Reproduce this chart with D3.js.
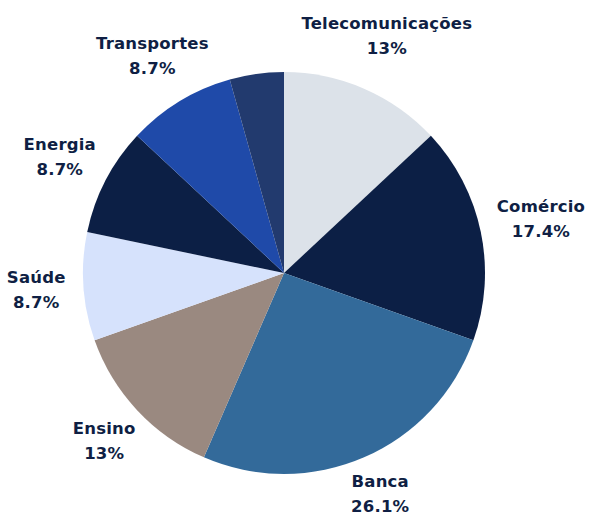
<!DOCTYPE html>
<html>
<head>
<meta charset="utf-8">
<script src="https://cdn.jsdelivr.net/npm/d3@7"></script>
<style>
  body { margin: 0; background: #fff; }
  text { font-family: "DejaVu Sans", sans-serif; font-weight: bold; fill: #0f1f44; }
</style>
</head>
<body>
<div id="chart"></div>
<script>
// Sectors, counts and percentage labels
var sectors = ["Telecomunicações", "Comércio", "Banca", "Ensino", "Saúde", "Energia", "Transportes", ""];
var counts = [3, 4, 6, 3, 2, 2, 2, 1];
var percentLabels = ["13%", "17.4%", "26.1%", "13%", "8.7%", "8.7%", "8.7%", ""];
var colors = ["#dce2e9", "#0c1f45", "#336a9a", "#9a8980", "#d6e2fc", "#0c1f45", "#1f4aa9", "#223a6e"];

var width = 589;
var height = 515;
var cx = 284, cy = 273;
var radius = 201;
var labelGap = 18;

var svg = d3.select("#chart")
  .append("svg")
    .attr("width", width)
    .attr("height", height);

var g = svg.append("g")
  .attr("transform", "translate(" + cx + "," + cy + ")");

var data = sectors.map(function (s, i) {
  return { name: s, value: counts[i], pct: percentLabels[i], color: colors[i] };
});

var pie = d3.pie()
  .sort(null)
  .value(function (d) { return d.value; });

var arc = d3.arc().innerRadius(0).outerRadius(radius);

var arcs = pie(data);

g.selectAll("path.slice")
  .data(arcs)
  .enter()
  .append("path")
    .attr("class", "slice")
    .attr("d", arc)
    .style("fill", function (d) { return d.data.color; });

var labels = g.selectAll("text.label")
  .data(arcs.filter(function (d) { return d.data.name != ""; }))
  .enter()
  .append("text")
    .attr("class", "label")
    .attr("text-anchor", "middle")
    .attr("font-size", 16.5)
    .style("letter-spacing", "0.2px");

labels.append("tspan")
  .attr("x", 0)
  .attr("y", -13)
  .attr("dy", "0.35em")
  .text(function (d) { return d.data.name; });

labels.append("tspan")
  .attr("x", 0)
  .attr("y", 12)
  .attr("dy", "0.35em")
  .text(function (d) { return d.data.pct; });

// Push each label out along its slice's mid angle so the box clears the rim.
labels.attr("transform", function (d) {
  var bb = this.getBBox();
  var hw = bb.width / 2, hh = 21;
  var a = (d.startAngle + d.endAngle) / 2;
  var s = Math.sin(a), c = Math.cos(a);
  var ext = Math.sqrt((hw * s) * (hw * s) + (hh * c) * (hh * c));
  var r = radius + labelGap + ext;
  return "translate(" + (r * s) + "," + (-r * c) + ")";
});
</script>
</body>
</html>
